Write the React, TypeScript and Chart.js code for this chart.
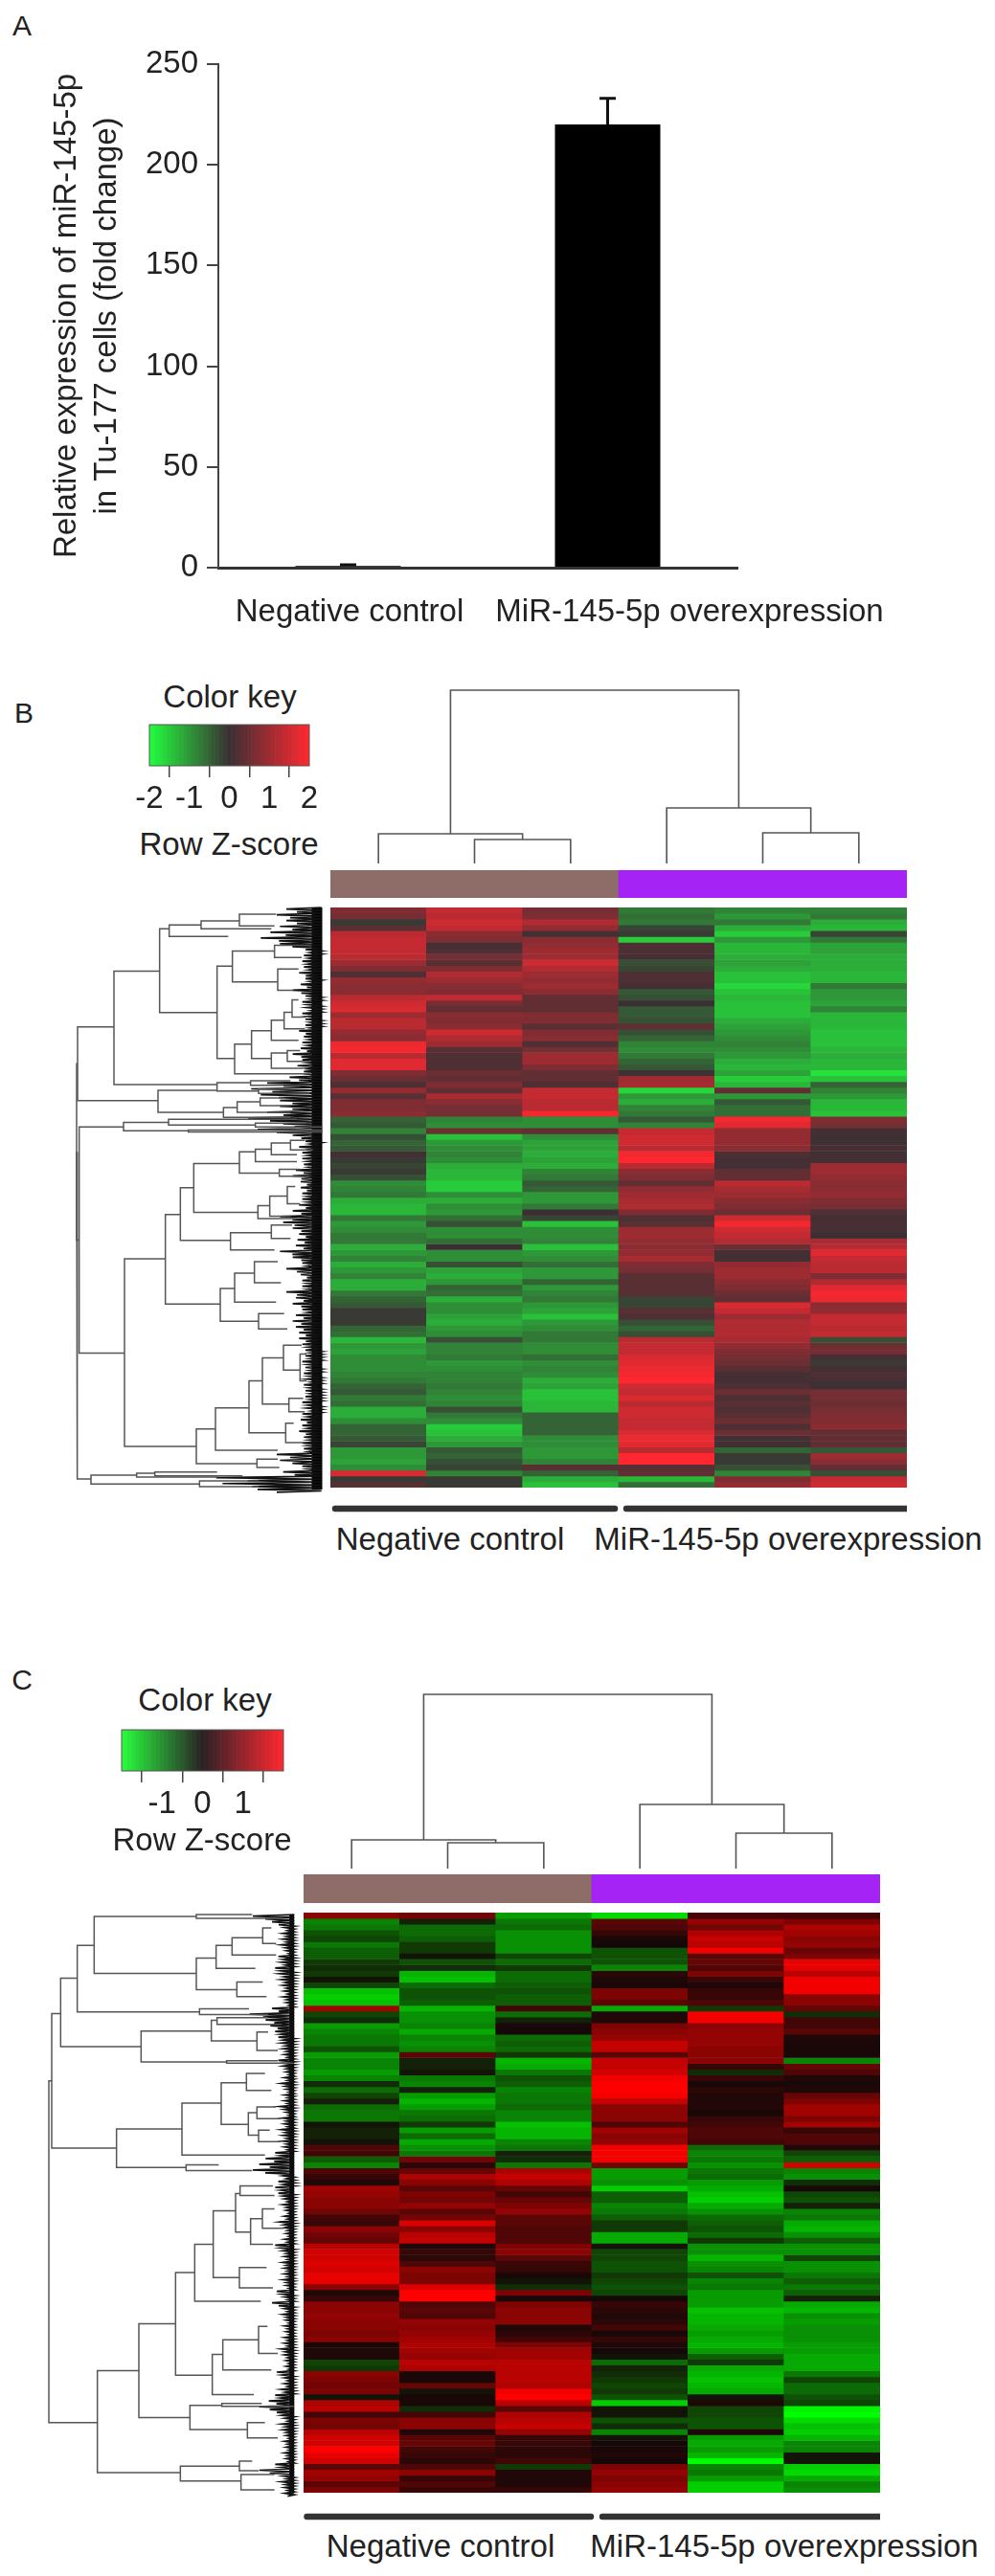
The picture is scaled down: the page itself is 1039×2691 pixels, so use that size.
import React, { useEffect, useRef } from "react";
import { Chart, registerables } from "chart.js";

Chart.register(...registerables);

const FONT = '"Liberation Sans", Arial, sans-serif';
const TEXT = "#222222";
const LINE = "#555555";

// ---------- Panel A ----------
const groups = ["Negative control", "MiR-145-5p overexpression"];
const foldChange = [0.8, 220];
const foldChangeErr = [0.6, 13];
const yTicksA = [0, 50, 100, 150, 200, 250];

// ---------- Panel B heat map (Z-score, 100 rows) ----------
const sampleNames = ["NC1", "NC2", "NC3", "OE1", "OE2", "OE3"];
const sampleGroupColors = ["#8e6c68", "#8e6c68", "#8e6c68", "#a523f5", "#a523f5", "#a523f5"];
const b1 = [.7,.6,-.1,.3,1.3,1.4,1.4,1.4,1.3,1,.7,.2,.9,.8,.8,1.3,1.5,1.6,1,1.3,1.3,.9,.8,1.8,1.9,1.3,1.7,1.7,.7,.5,.2,.9,.3,.7,.7,.8,-.5,-.4,-.8,-.3,-.5,-.4,.1,-.1,-.2,-.1,-.3,-.9,-.8,-.7,
-1.2,-1.3,-1.3,-.7,-1,-.9,-.7,-.7,-1.2,-1,-.8,-1.2,-1,-.8,-1.2,-1.2,-.7,-.5,-.4,-.1,-.1,-.1,-.5,-.6,-1.3,-1,-1.1,-.9,-.9,-.9,-.8,-.7,-.5,-.4,-.7,-.6,-1.2,-1.2,-.9,-.5,-.5,-.4,-.2,-1,-1,-1.1,-.9,1.6,-.1,.3];
const b2 = [1.4,1.3,1.5,1.4,.8,.7,.1,.2,.6,.3,.7,1.2,1,.8,.7,1.4,.6,.4,.8,.7,.8,1.5,1.2,1,.3,.2,.2,.2,.5,.4,.7,.4,1.1,.8,.6,.6,-.8,-.9,.5,-1.4,-1,-.9,-.8,-.9,-1.2,-1.3,-1.3,-1.5,-1.5,-.9,
-1.2,-.9,-1,-.6,-.3,-.9,-.9,-.6,0,-.9,-.9,-.3,-1.1,-1.2,-1,-.5,-.6,-1.2,-.9,-.9,-1.1,-1.2,-1,-.9,-.3,-.8,-.8,-.7,-1,-.9,-.8,-.8,-.7,-.8,-.9,-.8,-.3,-.7,-.9,-1.5,-1.4,-1.2,-1,-.4,-.5,-.3,-.2,-.8,-.1,-.1];
const b3 = [.6,.7,1.2,.9,.1,.8,.9,1,1,1.5,1.2,1,.9,1,.8,.4,.4,.4,.7,.7,.3,.7,.8,.2,.6,1,1,.7,.4,.4,.2,1.4,1.4,1.3,1.3,1.9,-.9,-.9,.4,-.9,-1.1,-1.1,-1.2,-1.1,-1.2,-.8,-.7,-.4,-.5,-1,
-1,-.7,0,-.2,-1.4,-.9,-.9,-.8,-1.4,-1,-.9,-.6,-1,-1,-.5,-1,-.8,-.7,-1,-1.1,-1.4,-1,-.9,-.7,-.7,-.9,-.9,-.6,-.9,-.8,-.9,-1.2,-1.1,-1.4,-1.4,-1.3,-1.3,-.5,-.5,-.5,-.5,-.9,-.9,-1,-1,-.8,.3,-.5,-1.2,-1.4];
const b4 = [-.7,-.6,-.7,-.2,-.1,-1.5,.2,.2,.1,-.3,-.2,.2,.2,.1,-.4,-.3,0,-.4,-.4,-.3,.4,-.3,-.5,-.8,-.9,-.7,-.5,-.4,.05,1,1.1,-1.6,-1,-1.2,-.8,-.7,-.4,-.8,1.4,1.5,1.5,1.3,1.9,2,1.3,.8,.7,.4,.9,1,
1.1,1.2,.7,.2,.3,1,1,.9,.8,.9,1.1,.7,.6,.3,.3,.3,.3,-.2,-.2,.3,.2,-.3,-.5,-.3,1.3,1.4,1.4,1.6,1.7,1.8,1.9,2,1.5,1.4,1.6,1.3,1.5,1.5,1.4,1.4,1.6,1.8,1.7,1.3,2,2,.3,.4,-1.3,-.6];
const b5 = [-.8,-1,-.7,-1.2,-1.5,-1,-1.3,-1.3,-1.2,-1.1,-1.2,-1.4,-1.4,-1.6,-1.4,-1.3,-1.4,-1.4,-1.4,-1.2,-1.1,-1,-.9,-.8,-.9,-1,-1.2,-1.3,-1.1,-1.5,-1.3,.4,-1,-.4,-.6,-.6,1.9,1.7,.9,.9,.9,.8,.2,.1,.1,.4,.4,1.3,1.1,1,
.8,.7,.5,1.5,1.9,1.5,1.4,1.2,.5,.1,.1,.9,1,1,.8,.7,.5,.4,1.6,1.4,1,1.2,1.2,1.2,1.1,.9,.7,.6,.5,.3,.1,.1,.2,.5,.2,.3,.2,.3,.5,.2,.5,.1,.05,-.5,-.1,-.1,-.3,-.8,.7,.9];
const b6 = [-.8,-.7,-1.2,-1.3,-.2,-.7,-1.1,-1.1,-1.2,-1.2,-1.2,-1.3,-1.3,-.7,-1,-1,-1.1,-.8,-1.3,-1.3,-1.3,-1.4,-1.4,-1.4,-1.3,-1.2,-1.3,-1.3,-1.7,-1.4,-.5,-.8,-1,-1.3,-1.3,-1.4,.7,.6,.1,.05,.05,.1,.1,.1,1,1,.9,.8,.8,.9,
.7,.6,.2,.1,.15,.1,0,1.1,1.3,1.7,1.4,1.3,1.3,.7,1.2,1.7,1.9,1.8,.8,.9,1.4,1.4,1.3,1.4,-.3,.5,.6,.1,-.1,.1,.2,.1,.05,.6,.6,.5,.6,.7,.7,.8,.4,.4,.4,-.4,1,.8,.4,-.3,1.4,1.5];

// ---------- Panel C heat map (Z-score, 100 rows) ----------
const c1 = [1,-1,-.9,-.6,-.5,-.9,-.7,-.7,-.4,-.3,-.4,-.1,-.5,-1.5,-1.6,-1.5,1.2,-.5,-.3,-1.2,-1,-.9,-.9,-.6,-1.2,-1,-1,-1.2,-1,-.3,-.8,-.5,-.2,-.8,-.9,-.9,-.1,-.2,-.2,-.1,.5,.4,-.7,-1,.5,.3,.1,1.2,1.1,1,
1,.8,.4,.3,1,.8,.7,1.4,1.6,1.6,1.7,1.6,1.8,1.8,1,.1,.3,1,1,1.1,1,1,.9,1,.05,.1,.1,-.5,-.4,1,.9,.8,.9,-.1,1.3,1.4,.4,.9,.8,1.4,1.6,1.6,2,1.8,1.6,.6,1.2,1.1,.6,.9];
const c2 = [.8,-.2,-.8,-.8,-.7,-.4,-.4,-.1,-.6,-.3,-1.4,-1.5,-.8,-.6,-.6,-.7,-1.4,-1.1,-1.1,-1,-1.3,-1,-1.1,-1,.6,-.2,-.2,-.1,-.9,-1,-.2,-1.2,-1.4,-1.2,-.9,-.8,-.4,-1.2,-.8,-1.3,-1.1,-.9,.8,.2,.7,1.3,1,.6,.9,.8,
1.1,.6,.8,1.7,1,1.4,1.5,.1,.3,.2,.5,1,.9,.9,1.7,2,2,.5,.6,.5,1.1,1,1.1,1.2,1.3,1.2,1.1,1.4,1.3,.05,.05,.7,-.1,.05,.05,-.3,.4,1,1,.1,.6,.7,.4,.3,.2,.5,1,.3,.5,.3];
const c3 = [-1.2,-.9,-.8,-1.1,-1.1,-1.1,-1.1,-.5,-.8,-.4,-.8,-.8,-.7,-.6,-.7,-.7,.4,-.8,-.2,.05,0,-.8,-.7,-.8,-.4,-1.4,-1.3,-.9,-.6,-.7,-1,-.9,-.9,-.8,-1,-1,-1.5,-1.4,-1.4,-1,-.9,-.2,-.3,-.9,1.3,1.5,1.3,.7,.4,.7,
.9,1.1,.6,.6,.5,.5,.5,.9,1,.6,.3,.3,.05,-.1,-.3,.9,.05,.9,1,1,1,.1,.2,.4,.9,1.2,1.2,1.4,1.4,1.4,1.4,1.3,1.9,2,1.4,.6,1.3,1.4,1.5,1.1,.3,.3,.2,.2,.4,-.4,.1,.1,.1,.3];
const c4 = [-1.7,.6,.5,.3,.05,0,-.6,-.6,-.6,-1,.2,.1,.05,.9,.9,.6,-1.3,.1,.1,.9,1,1.1,1.5,1.5,.6,1.5,1.5,1.6,1.9,2,2,1.9,1.5,1,1,1,.5,1.2,1,1.1,1.9,1.9,1.9,.8,-1.2,-1.2,-1.1,-1.6,-.7,-.7,
-1,-.9,-.7,-.4,-.4,-1.3,-1.3,-.1,-.5,-.5,-.6,-.6,-.4,-.5,-.6,-.5,0,.3,.2,.1,.2,.4,.05,.3,.1,0,-.1,-.8,-.2,-.3,-.4,-.5,-.4,-.6,-1.6,-.1,-.1,-.6,-.3,-1,-.1,0,.05,.1,0,.9,1.1,.9,1,1.1];
const c5 = [.4,1.1,.8,1.3,1.5,1.4,1.9,.6,.7,.5,.9,.3,.1,.3,.3,.5,-.4,1.9,1.9,1,1.1,1.1,1.1,1,1,1,.3,-.3,.3,.05,.2,.1,.1,.15,.05,.3,.4,.5,.5,.4,-.8,-1,-.9,-1.1,-.9,-.8,-1.2,-1.3,-1.5,-1.6,
-1.3,-1.1,-.8,-.7,-.6,-.8,-.4,-1.1,-1.1,-1.4,-1.1,-1,-.6,-1,-.9,-1.2,-1.2,-1.2,-1.5,-1.4,-1.4,-1.3,-1.2,-1.3,-1.4,-1.2,-.7,-.4,-1.3,-1.4,-1.5,-1.4,-1.3,-.1,.1,-.5,-.5,-.6,-.6,.1,-1.2,-1.3,-1.2,-1.4,-2,-1,-.9,-1.2,-1.6,-1.6];
const c6 = [.4,.9,1.3,1.2,1,1.1,.7,.9,1.8,1.8,1.4,1.9,1.9,1.9,1,1,.7,-.3,.4,.4,.6,.1,.05,.05,.05,-1,.7,.5,.1,.05,.1,.7,.9,1.2,1.2,.9,1.2,.3,.5,.5,.1,-.5,-.7,1.6,-1,-1.1,-.3,0,-.5,-.6,
-.2,-1,-.9,-1.3,-1.4,-1.1,-.7,-1.1,-1.1,-.5,-1.1,-1.1,-.9,-.7,-.9,-.7,-.2,-1.3,-1.4,-1.1,-1.2,-1.1,-1.1,-1.1,-1.2,-1.2,-1.3,-1.3,-1.3,-.9,-.5,-.8,-.8,-.6,-.5,-1.9,-2,-1.7,-1.5,-1.6,-1.4,-1,-1,-.1,-.1,-1.6,-1.7,-1.3,-1,-1.1];

// ---------- Colour keys ----------
const keyBins = [-2,-1.9,-1.8,-1.7,-1.6,-1.5,-1.4,-1.3,-1.2,-1.1,-1,-.9,-.8,-.7,-.6,-.5,-.4,-.3,-.2,-.1,0,.1,.2,.3,.4,.5,.6,.7,.8,.9,1,1.1,1.2,1.3,1.4,1.5,1.6,1.7,1.8,1.9,2];
const keyTicksB = [-2, -1, 0, 1, 2];
const keyTicksC = [-1, 0, 1];

// ---------- Dendrograms: [child height, child row, merge height, child row, child height] ----------
const colMergesB = [[1.5,0,25,2.5,0],[.5,0,31,2,25],[4.5,0,32,5.5,0],[3.5,0,58,5,32],[1.25,31,181,4.25,58]];
const colMergesC = [[1.5,0,27,2.5,0],[.5,0,30,2,27],[4.5,0,37,5.5,0],[3.5,0,67,5,37],[1.25,30,182,4.25,67]];
const rowMergesB = [[147,330,33,522,285],[177,590,38,1178,180],[33,426,30,884,38],[30,655,32,1505,75],[290,185,147,480,470],[320,75,290,293,470],[420,65,320,95,505],[540,55,420,75,640],[655,37,540,68,650],[518,172,470,412,525],[650,133,518,213,660],[760,118,650,150,735],[725,180,660,235,710],[578,375,525,452,760],[640,340,578,412,640],[680,313,640,365,725],[705,292,680,335,745],[725,260,705,305,750],[690,398,640,438,750],[730,392,690,420,760],[575,475,470,497,600],[700,470,575,482,760],[650,492,600,503,760],[470,495,285,552,490],[533,540,490,565,700],[605,525,533,552,700],[680,515,605,535,700],[318,578,177,600,380],[720,570,318,585,590],[800,598,380,603,800],[750,580,590,590,800],[308,933,180,1420,405],[355,818,308,1050,480],[397,748,355,885,512],[540,685,397,812,598],[590,655,540,710,665],[640,648,590,680,720],[700,632,640,662,720],[745,625,700,650,770],[730,700,665,718,760],[635,795,598,828,720],[690,770,635,822,700],[715,745,690,790,730],[640,865,512,910,650],[705,845,640,880,700],[525,1010,480,1095,600],[587,970,525,1045,655],[660,940,587,995,670],[680,1075,600,1115,690],[465,1375,405,1465,595],[570,1320,465,1430,660],[612,1250,570,1385,685],[678,1190,612,1310,695],[735,1157,678,1222,730],[710,1360,685,1410,740],[750,1180,730,1250,750],[740,1295,695,1330,745],[660,1453,595,1475,665],[218,1495,75,1518,415],[275,1490,218,1500,470],[470,1487,275,1497,550],[600,1510,415,1525,600]];
const rowMergesC = [[70,282,42,632,245],[42,457,33,1345,185],[122,190,70,368,322],[175,105,122,278,505],[495,30,175,178,495],[670,25,495,35,760],[557,138,495,220,622],[607,105,557,165,680],[703,85,607,130,745],[730,60,703,100,745],[703,200,622,238,715],[660,270,505,285,720],[542,328,322,408,590],[560,300,542,353,685],[720,293,560,310,760],[720,330,685,378,750],[750,405,590,411,800],[450,582,245,682,463],[573,515,450,650,710],[652,462,573,570,658],[710,438,652,482,730],[685,540,658,598,690],[745,525,685,555,760],[725,585,690,615,760],[565,675,463,690,670],[315,1210,185,1475,445],[430,1088,315,1332,475],[490,955,430,1222,545],[548,882,490,1030,697],[618,795,548,968,630],[632,750,618,850,665],[735,730,632,755,740],[702,815,665,882,735],[740,790,702,840,770],[715,942,630,995,735],[578,1168,545,1272,675],[690,1130,578,1208,730],[718,1095,690,1165,750],[575,1300,475,1363,655],[700,1295,575,1303,800],[710,1345,655,1385,750],[630,1458,445,1497,635],[670,1445,630,1470,690],[740,1480,635,1520,740]];
const leafReachB = [110,140,110,130,160,190,130,50,55,60,55,70,50,65,90,50,60,45,60,50,50,70,55,60,65,90,60,75,55,100,170,220,190,130,130,170,230,120,200,90,50,70,60,60,55,80,90,65,65,60,60,70,90,130,120,90,70,75,80,130,90,60,110,65,60,60,110,80,90,60,80,90,80,70,70,60,50,50,60,50,55,45,55,50,50,60,45,60,65,60,70,55,60,55,140,130,60,120,330,310,200];
const leafReachC = [130,70,30,35,35,40,25,50,40,60,45,40,35,30,35,25,70,140,90,75,60,50,40,35,30,50,35,25,30,40,25,30,30,45,25,35,30,40,35,35,30,60,90,110,130,35,50,60,50,30,35,25,30,45,30,25,30,60,35,30,35,30,30,35,25,55,30,70,30,35,25,30,25,30,30,40,30,25,25,55,30,30,40,60,80,110,55,30,40,35,25,30,25,30,25,60,110,35,40,30,30];

// ---------- Colour ramps ----------
type RGB = number[];
const rampB = { low: [34, 255, 60], mid: [58, 48, 52], high: [255, 40, 48] };
const rampC = { low: [0, 255, 0], mid: [20, 8, 8], high: [255, 0, 0] };
const keyRampC = { low: [40, 255, 60], mid: [42, 34, 38], high: [255, 40, 48] };

function zColor(z: number, ramp: { low: RGB; mid: RGB; high: RGB }) {
  const t = Math.min(1, Math.abs(z) / 2);
  const end = z < 0 ? ramp.low : ramp.high;
  const c = ramp.mid.map((m, i) => Math.round(m + (end[i] - m) * t));
  return `rgb(${c[0]},${c[1]},${c[2]})`;
}

const errorBars = {
  id: "errorBars",
  afterDatasetsDraw(chart: any) {
    const { ctx, scales } = chart;
    ctx.save();
    ctx.strokeStyle = "#111";
    foldChange.forEach((v, i) => {
      const x = scales.x.getPixelForValue(i);
      const y0 = scales.y.getPixelForValue(v);
      const y1 = scales.y.getPixelForValue(v + foldChangeErr[i]);
      ctx.lineWidth = 3;
      ctx.beginPath();
      ctx.moveTo(x, y0);
      ctx.lineTo(x, y1);
      ctx.moveTo(x - 8.5, y1);
      ctx.lineTo(x + 8.5, y1);
      ctx.stroke();
    });
    ctx.restore();
  },
};

const keyFrame = {
  id: "keyFrame",
  afterDatasetsDraw(chart: any) {
    const { ctx, chartArea: a } = chart;
    ctx.save();
    ctx.strokeStyle = "#555";
    ctx.lineWidth = 1;
    ctx.strokeRect(a.left, a.top, a.right - a.left, a.bottom - a.top);
    ctx.restore();
  },
};

function ChartBox({ left, top, width, height, config, blur = 0.6 }: any) {
  const ref = useRef<HTMLCanvasElement>(null);
  useEffect(() => {
    const chart = new Chart(ref.current as HTMLCanvasElement, config());
    return () => chart.destroy();
  }, []);
  return (
    <canvas
      ref={ref}
      width={width}
      height={height}
      style={{ position: "absolute", left, top, width, height, filter: `blur(${blur}px)` }}
    />
  );
}

function Label({ x, y, size = 33, children }: any) {
  return (
    <div
      style={{
        position: "absolute",
        left: x,
        top: y,
        transform: "translate(-50%,-50%)",
        font: `${size}px ${FONT}`,
        color: TEXT,
        whiteSpace: "nowrap",
      }}
    >
      {children}
    </div>
  );
}

const base = { animation: false, responsive: false, plugins: { legend: { display: false }, tooltip: { enabled: false } } };

function barConfig() {
  return {
    type: "bar",
    data: { labels: groups, datasets: [{ data: foldChange, backgroundColor: "#000", barPercentage: 0.406, categoryPercentage: 1 }] },
    options: {
      ...base,
      layout: { padding: { top: 67, right: 269, bottom: 87, left: 0 } },
      scales: {
        x: {
          grid: { display: false },
          border: { color: "#333", width: 3 },
          ticks: { display: false },
          afterFit: (s: any) => { s.height = 0; },
        },
        y: {
          min: 0,
          max: 250,
          afterBuildTicks: (s: any) => { s.ticks = yTicksA.map((value) => ({ value })); },
          afterFit: (s: any) => { s.width = 228; },
          grid: { drawOnChartArea: false, color: "#444", lineWidth: 2, tickLength: 12 },
          border: { color: "#444", width: 2 },
          ticks: { color: TEXT, padding: 9, font: { family: FONT, size: 33 } },
          title: {
            display: true,
            text: ["Relative expression of miR-145-5p", "in Tu-177 cells (fold change)"],
            color: TEXT,
            padding: { top: 48, bottom: 0 },
            font: { family: FONT, size: 33, lineHeight: 1.3 },
          },
        },
      },
    },
    plugins: [errorBars],
  };
}

function keyConfig(ramp: any, ticks: number[], pad: any) {
  return () => ({
    type: "bar",
    data: {
      datasets: [{
        data: keyBins.map((x) => ({ x, y: 1 })),
        backgroundColor: keyBins.map((z) => zColor(z, ramp)),
        barPercentage: 1,
        categoryPercentage: 1,
      }],
    },
    options: {
      ...base,
      layout: { padding: pad },
      scales: {
        x: {
          type: "linear",
          offset: false,
          min: -2,
          max: 2,
          afterBuildTicks: (s: any) => { s.ticks = ticks.map((value) => ({ value })); },
          afterFit: (s: any) => { s.height = 60; },
          grid: { drawOnChartArea: false, color: "#444", lineWidth: 1.5, tickLength: 12 },
          border: { display: false },
          ticks: { color: TEXT, padding: 3, maxRotation: 0, autoSkip: false, font: { family: FONT, size: 33 } },
        },
        y: { display: false, min: 0, max: 1 },
      },
    },
    plugins: [keyFrame],
  });
}

function lineDataset(points: any[], width: number, color: string) {
  return { data: points, showLine: true, pointRadius: 0, borderWidth: width, borderColor: color, tension: 0, clip: false };
}

function colDendroConfig(merges: number[][]) {
  return () => ({
    type: "scatter",
    data: {
      datasets: merges.map(([x1, h1, h, x2, h2]) =>
        lineDataset([{ x: x1, y: h1 }, { x: x1, y: h }, { x: x2, y: h }, { x: x2, y: h2 }], 1.6, LINE)),
    },
    options: {
      ...base,
      scales: { x: { display: false, min: 0, max: 6 }, y: { display: false, min: 0, max: 188 } },
    },
  });
}

function rowDendroConfig(merges: number[][], reach: number[], edge: number, firstRow: number, rowStep: number, bandX: number, bandWidth: number) {
  return () => {
    const leaves: any[] = [];
    reach.forEach((r, i) => {
      const y = firstRow + i * rowStep;
      leaves.push({ x: edge, y }, { x: edge - r, y: y + rowStep / 4 }, { x: edge, y: y + rowStep / 2 }, { x: edge - r * 0.7, y: y + (3 * rowStep) / 4 });
    });
    const lastRow = firstRow + (reach.length - 1) * rowStep;
    return {
      type: "scatter",
      data: {
        datasets: [
          ...merges.map(([h1, y1, h, y2, h2]) =>
            lineDataset([{ x: h1, y: y1 }, { x: h, y: y1 }, { x: h, y: y2 }, { x: h2, y: y2 }], 1.5, LINE)),
          lineDataset(leaves, 1.7, "#111"),
          lineDataset([{ x: bandX, y: firstRow }, { x: bandX, y: lastRow + 4 }], bandWidth, "#000"),
        ],
      },
      options: {
        ...base,
        scales: {
          x: { display: false, min: 0, max: 840 },
          y: { display: false, min: 0, max: 1567, reverse: true },
        },
      },
    };
  };
}

function heatConfig(cols: number[][], ramp: any) {
  return () => ({
    type: "bar",
    data: {
      labels: sampleNames,
      datasets: cols[0].map((_, r) => ({
        data: cols.map(() => [r, r + 1]),
        backgroundColor: cols.map((c) => zColor(c[r], ramp)),
        barPercentage: 1,
        categoryPercentage: 1,
        grouped: false,
      })),
    },
    options: {
      ...base,
      scales: { x: { display: false }, y: { display: false, min: 0, max: cols[0].length, reverse: true } },
    },
  });
}

function sideBarConfig() {
  return {
    type: "bar",
    data: {
      labels: sampleNames,
      datasets: [{ data: sampleNames.map(() => 1), backgroundColor: sampleGroupColors, barPercentage: 1, categoryPercentage: 1 }],
    },
    options: { ...base, scales: { x: { display: false }, y: { display: false, min: 0, max: 1 } } },
  };
}

function underlineConfig(spans: number[][]) {
  return () => ({
    type: "scatter",
    data: {
      datasets: spans.map(([a, b]) => ({
        ...lineDataset([{ x: a, y: 0.5 }, { x: b, y: 0.5 }], 6.5, "#333"),
        borderCapStyle: "round",
      })),
    },
    options: { ...base, scales: { x: { display: false, min: 0, max: 6 }, y: { display: false, min: 0, max: 1 } } },
  });
}

export default function App() {
  return (
    <div style={{ position: "absolute", left: 0, top: 0, width: 1039, height: 2691, background: "#fff", overflow: "hidden" }}>
      <Label x={23} y={27} size={30}>A</Label>
      <ChartBox left={0} top={0} width={1039} height={680} config={barConfig} />
      <Label x={365} y={638}>{groups[0]}</Label>
      <Label x={720} y={638}>{groups[1]}</Label>

      <Label x={25} y={745} size={30}>B</Label>
      <Label x={240} y={728}>Color key</Label>
      <ChartBox left={130} top={740} width={230} height={120} config={keyConfig(rampB, keyTicksB, { top: 17, left: 26, right: 37, bottom: 0 })} />
      <Label x={239} y={882}>Row Z-score</Label>
      <ChartBox left={345} top={714} width={602} height={188} config={colDendroConfig(colMergesB)} />
      <ChartBox left={345} top={909} width={602} height={29} config={sideBarConfig} blur={0.4} />
      <ChartBox left={70} top={940} width={280} height={630} config={rowDendroConfig(rowMergesB, leafReachB, 797, 20, 15.08, 783, 11)} />
      <ChartBox left={345} top={948} width={602} height={606} config={heatConfig([b1, b2, b3, b4, b5, b6], rampB)} />
      <ChartBox left={345} top={1566} width={602} height={20} config={underlineConfig([[0.05, 2.96], [3.08, 5.99]])} />
      <Label x={470} y={1608}>{groups[0]}</Label>
      <Label x={823} y={1608}>{groups[1]}</Label>

      <Label x={23} y={1755} size={30}>C</Label>
      <Label x={214} y={1776}>Color key</Label>
      <ChartBox left={100} top={1790} width={230} height={120} config={keyConfig(keyRampC, keyTicksC, { top: 17, left: 27, right: 34, bottom: 0 })} />
      <Label x={211} y={1922}>Row Z-score</Label>
      <ChartBox left={317} top={1764} width={602} height={188} config={colDendroConfig(colMergesC)} />
      <ChartBox left={317} top={1958} width={602} height={30} config={sideBarConfig} blur={0.4} />
      <ChartBox left={40} top={1990} width={280} height={630} config={rowDendroConfig(rowMergesC, leafReachC, 802, 25, 15, 794, 5)} />
      <ChartBox left={317} top={1998} width={602} height={606} config={heatConfig([c1, c2, c3, c4, c5, c6], rampC)} />
      <ChartBox left={317} top={2619} width={602} height={20} config={underlineConfig([[0.035, 2.99], [3.11, 6]])} />
      <Label x={460} y={2660}>{groups[0]}</Label>
      <Label x={819} y={2660}>{groups[1]}</Label>
    </div>
  );
}
